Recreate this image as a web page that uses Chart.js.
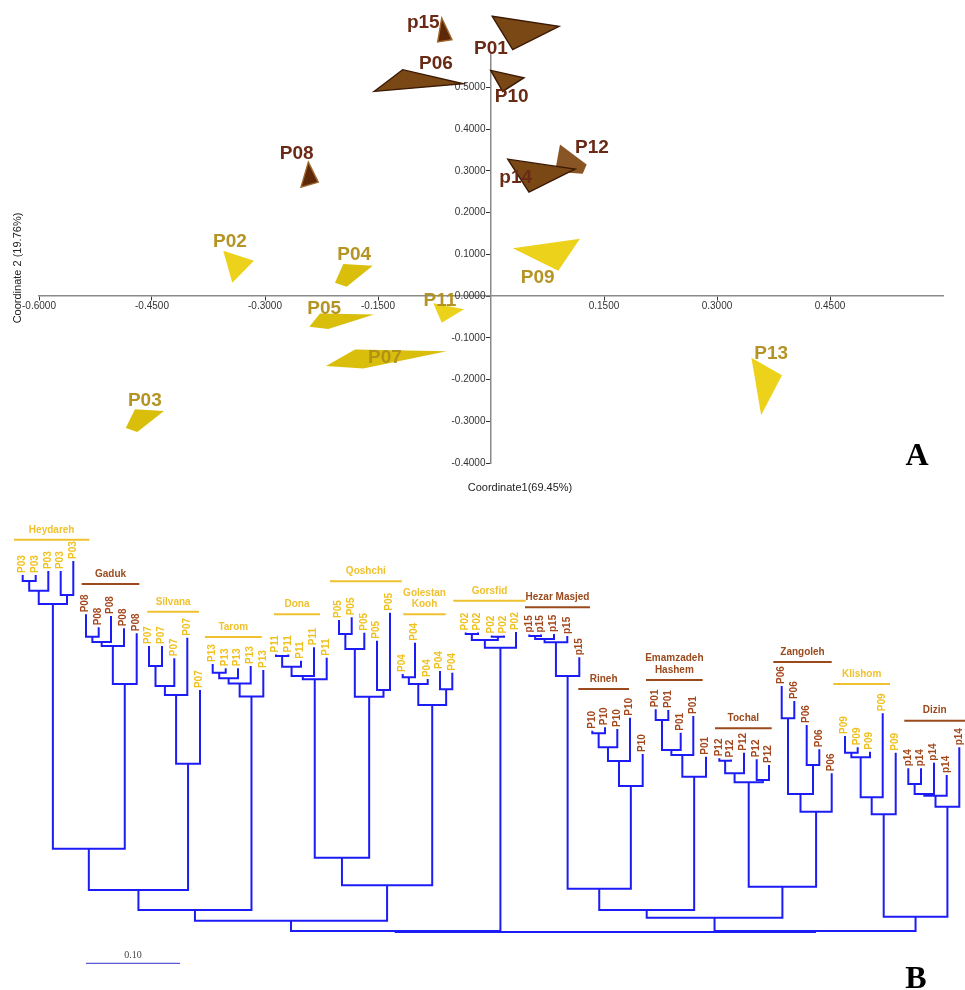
<!DOCTYPE html>
<html>
<head>
<meta charset="utf-8">
<script src="https://cdn.jsdelivr.net/npm/chart.js@4.4.1/dist/chart.umd.min.js"></script>
<style>
    html, body { margin: 0; padding: 0; background: #fff; }
    #wrap { position: relative; width: 965px; height: 990px; }
    #pcoa { position: absolute; left: 0; top: 0; }
    #tree { position: absolute; left: 0; top: 500px; }
</style>
</head>
<body>
<div id="wrap">
    <canvas id="pcoa" width="965" height="500"></canvas>
    <canvas id="tree" width="965" height="490"></canvas>
</div>
<script>
// ---------- Panel A: PCoA, one polygon per population ----------
const popNames = ['P12', 'p14', 'P01', 'P06', 'P10', 'p15', 'P08', 'P02', 'P04', 'P05', 'P07', 'P03', 'P09', 'P11', 'P13'];
const popVertX = [
    [0.0916, 0.1270, 0.1217, 0.0850],
    [0.0222, 0.1115, 0.0504],
    [0.0017, 0.0903, 0.0288],
    [-0.1553, -0.1172, -0.0368],
    [-0.0004, 0.0438, 0.0155],
    [-0.0654, -0.0518, -0.0708],
    [-0.2425, -0.2293, -0.2522],
    [-0.3554, -0.3146, -0.3434],
    [-0.1961, -0.1570, -0.1916, -0.2071],
    [-0.2270, -0.1553, -0.2160, -0.2412],
    [-0.1805, -0.0588, -0.1695, -0.2190],
    [-0.4726, -0.4341, -0.4695, -0.4849],
    [0.0288, 0.1181, 0.0893],
    [-0.0766, -0.0358, -0.0654],
    [0.3457, 0.3863, 0.3586]
];
const popVertY = [
    [0.3631, 0.3151, 0.2928, 0.2976],
    [0.3281, 0.3041, 0.2489],
    [0.6703, 0.6463, 0.5904],
    [0.4903, 0.5424, 0.5088],
    [0.5407, 0.5232, 0.4903],
    [0.6664, 0.6144, 0.6088],
    [0.3209, 0.2729, 0.2609],
    [0.1087, 0.0847, 0.0319],
    [0.0768, 0.0727, 0.0223, 0.0319],
    [-0.0415, -0.0439, -0.0792, -0.0737],
    [-0.1279, -0.1320, -0.1735, -0.1673],
    [-0.2712, -0.2753, -0.3257, -0.3161],
    [0.1145, 0.1375, 0.0607],
    [-0.0175, -0.0319, -0.0641],
    [-0.1481, -0.1896, -0.2856]
];
const popLabelX = [0.134, 0.0328, 0.0, -0.073, 0.0275, -0.0899, -0.258, -0.3466, -0.1815, -0.2214, -0.1408, -0.4595, 0.062, -0.0677, 0.372];
const popLabelY = [0.355, 0.284, 0.592, 0.556, 0.4765, 0.654, 0.342, 0.130, 0.098, -0.0295, -0.147, -0.251, 0.045, -0.0113, -0.1374];
const xTickValues = [-0.6, -0.45, -0.3, -0.15, 0.15, 0.3, 0.45];
const yTickValues = [-0.4, -0.3, -0.2, -0.1, 0, 0.1, 0.2, 0.3, 0.4, 0.5];
const xTitle = 'Coordinate1(69.45%)';
const yTitle = 'Coordinate 2 (19.76%)';

// ---------- Panel B: dendrogram ----------
const leafLabels = [
    'P03', 'P03', 'P03', 'P03', 'P03',
    'P08', 'P08', 'P08', 'P08', 'P08',
    'P07', 'P07', 'P07', 'P07', 'P07',
    'P13', 'P13', 'P13', 'P13', 'P13',
    'P11', 'P11', 'P11', 'P11', 'P11',
    'P05', 'P05', 'P05', 'P05', 'P05',
    'P04', 'P04', 'P04', 'P04', 'P04',
    'P02', 'P02', 'P02', 'P02', 'P02',
    'p15', 'p15', 'p15', 'p15', 'p15',
    'P10', 'P10', 'P10', 'P10', 'P10',
    'P01', 'P01', 'P01', 'P01', 'P01',
    'P12', 'P12', 'P12', 'P12', 'P12',
    'P06', 'P06', 'P06', 'P06', 'P06',
    'P09', 'P09', 'P09', 'P09', 'P09',
    'p14', 'p14', 'p14', 'p14', 'p14'
];
const leafPos = [
    22.7, 35.7, 48.3, 60.7, 73.3,
    86, 98.7, 111, 124, 136.7,
    149, 162, 174.3, 187.3, 200,
    212.7, 225.7, 238, 250.7, 263.3,
    276, 288.3, 301, 314, 326.7,
    339, 351.7, 364.3, 377, 390,
    402.7, 415, 427.7, 440, 452.3,
    465.7, 478, 491.7, 504, 516,
    529.3, 541, 554, 567.3, 579.3,
    592.3, 605, 617.3, 630, 642.7,
    655.7, 668.3, 680.7, 693.3, 706,
    719.3, 731, 744, 756.7, 769,
    781.7, 794.3, 806.7, 819.3, 831.7,
    845, 857.7, 870, 882.7, 895.7,
    908.3, 921, 934, 946.7, 959.3
];
const leafTip = [
    0.3798, 0.3798, 0.3840, 0.3840, 0.3947,
    0.3380, 0.3241, 0.3362, 0.3231, 0.3178,
    0.3043, 0.3043, 0.2912, 0.3131, 0.2574,
    0.2851, 0.2805, 0.2805, 0.2830, 0.2787,
    0.2952, 0.2952, 0.2886, 0.3029, 0.2918,
    0.3319, 0.3348, 0.3184, 0.3099, 0.3397,
    0.2745, 0.3078, 0.2691, 0.2777, 0.2759,
    0.3186, 0.3186, 0.3154, 0.3154, 0.3191,
    0.3165, 0.3165, 0.3170, 0.3149, 0.2922,
    0.2141, 0.2178, 0.2160, 0.2280, 0.1894,
    0.2369, 0.2362, 0.2120, 0.2298, 0.1865,
    0.1848, 0.1835, 0.1907, 0.1837, 0.1777,
    0.2617, 0.2457, 0.2202, 0.1944, 0.1688,
    0.2085, 0.1965, 0.1918, 0.2327, 0.1907,
    0.1741, 0.1741, 0.1801, 0.1670, 0.1965
];
// [child a, child b, height]; leaves are 0..74, merged nodes are 75 onward
const merges = [
    [0, 1, 0.3734], [75, 2, 0.3631], [3, 4, 0.3585], [76, 77, 0.3489],
    [5, 6, 0.3141], [79, 7, 0.3085], [80, 8, 0.3043], [81, 9, 0.2638],
    [10, 11, 0.2830], [83, 12, 0.2617], [84, 13, 0.2521], [85, 14, 0.1790],
    [15, 16, 0.2759], [87, 17, 0.2699], [88, 18, 0.2644], [89, 19, 0.2505],
    [20, 21, 0.2936], [91, 22, 0.2822], [92, 23, 0.2723], [93, 24, 0.2688],
    [25, 26, 0.3170], [95, 27, 0.3011], [28, 29, 0.2574], [96, 97, 0.2503],
    [30, 31, 0.2710], [99, 32, 0.2638], [33, 34, 0.2582], [100, 101, 0.2415],
    [78, 82, 0.0886], [103, 86, 0.0447], [104, 90, 0.0234],
    [94, 98, 0.0790], [106, 102, 0.0497], [105, 107, 0.0120],
    [35, 36, 0.3170], [37, 38, 0.3141], [109, 110, 0.3106], [111, 39, 0.3024],
    [40, 41, 0.3149], [113, 42, 0.3117], [114, 43, 0.3082], [115, 44, 0.2723],
    [45, 46, 0.2114], [117, 47, 0.1965], [118, 48, 0.1819], [119, 49, 0.1553],
    [50, 51, 0.2255], [121, 52, 0.1936], [122, 53, 0.1883], [123, 54, 0.1652],
    [55, 56, 0.1822], [125, 57, 0.1688], [58, 59, 0.1617], [126, 127, 0.1593],
    [60, 61, 0.2273], [62, 63, 0.1777], [129, 130, 0.1468], [131, 64, 0.1280],
    [65, 66, 0.1907], [133, 67, 0.1859], [134, 68, 0.1433], [135, 69, 0.1252],
    [70, 71, 0.1574], [137, 72, 0.1468], [138, 73, 0.1450], [139, 74, 0.1333],
    [116, 120, 0.0461], [141, 124, 0.0234], [128, 132, 0.0482], [142, 143, 0.0152],
    [136, 140, 0.0163], [144, 145, 0.0011],
    [108, 112, 0.0011], [147, 146, 0.0]
];
const groupNames = ['Heydareh', 'Gaduk', 'Silvana', 'Tarom', 'Dona', 'Qoshchi', 'Golestan\nKooh', 'Gorsfid',
    'Hezar Masjed', 'Rineh', 'Emamzadeh\nHashem', 'Tochal', 'Zangoleh', 'Klishom', 'Dizin'];
const groupPop = ['P03', 'P08', 'P07', 'P13', 'P11', 'P05', 'P04', 'P02', 'p15', 'P10', 'P01', 'P12', 'P06', 'P09', 'p14'];
const groupFrom = [14, 81.7, 147.3, 205, 274, 330, 403.3, 453.3, 525, 578.3, 646, 715, 773.3, 833.3, 904.3];
const groupTo = [89.3, 139.3, 199, 261.7, 320, 401.7, 445.7, 525.7, 590, 629, 702.7, 771.7, 831.7, 890, 965];
const groupLevel = [0.4173, 0.3702, 0.3407, 0.3138, 0.3380, 0.3731, 0.3380, 0.3524, 0.3454, 0.2585, 0.2681, 0.2167, 0.2872, 0.2638, 0.2248];
const scaleBarX = [86, 180];
const scaleBarLevel = -0.0333;
const scaleBarText = '0.10';

// ---------- styles ----------
const yellowPops = ['P02', 'P03', 'P04', 'P05', 'P07', 'P09', 'P11', 'P13'];
const popFill = {
    P12: '#8a5524', p14: '#7a4815', P01: '#7a4815', P06: '#7a4815', P10: '#7a4815',
    p15: '#5c2807', P08: '#5c2807',
    P02: '#edd21c', P09: '#edd21c', P11: '#edd21c', P13: '#edd21c',
    P04: '#d9bf0c', P05: '#d9bf0c', P07: '#d9bf0c', P03: '#d9bf0c'
};
const popEdge = { p14: '#3b1a05', P01: '#3b1a05', P06: '#3b1a05', P10: '#3b1a05', p15: '#a0652c', P08: '#a0652c' };
const SANS = '"Liberation Sans", Arial, Helvetica, sans-serif';
const SERIF = '"Liberation Serif", "Times New Roman", serif';
const isYellow = name => yellowPops.includes(name);

const pcoaText = {
    id: 'pcoaText',
    afterDatasetsDraw(chart) {
        const { ctx, scales: { x, y } } = chart;
        chart.data.datasets.forEach((ds, i) => {
            const pts = chart.getDatasetMeta(i).data;
            ctx.save();
            ctx.beginPath();
            pts.forEach((p, k) => (k ? ctx.lineTo(p.x, p.y) : ctx.moveTo(p.x, p.y)));
            ctx.closePath();
            ctx.fillStyle = popFill[ds.label];
            ctx.fill();
            if (popEdge[ds.label]) {
                ctx.strokeStyle = popEdge[ds.label];
                ctx.lineWidth = 1.4;
                ctx.stroke();
            }
            ctx.restore();
        });

        ctx.save();
        ctx.font = `bold 19px ${SANS}`;
        ctx.textAlign = 'center';
        ctx.textBaseline = 'middle';
        popNames.forEach((name, i) => {
            ctx.fillStyle = isYellow(name) ? 'rgba(176, 142, 24, 0.95)' : '#6a2b16';
            ctx.fillText(name, x.getPixelForValue(popLabelX[i]), y.getPixelForValue(popLabelY[i]));
        });

        ctx.fillStyle = '#222';
        ctx.font = `11px ${SANS}`;
        ctx.fillText(xTitle, 520, 488);
        ctx.save();
        ctx.translate(18, 268);
        ctx.rotate(-Math.PI / 2);
        ctx.fillText(yTitle, 0, 0);
        ctx.restore();

        ctx.fillStyle = '#000';
        ctx.font = `bold 32px ${SERIF}`;
        ctx.fillText('A', 917, 457);
        ctx.restore();
    }
};

const treeText = {
    id: 'treeText',
    afterDatasetsDraw(chart) {
        const { ctx, scales: { x, y } } = chart;
        ctx.save();
        ctx.font = `bold 10px ${SANS}`;
        ctx.textAlign = 'left';
        ctx.textBaseline = 'middle';
        leafLabels.forEach((label, i) => {
            ctx.save();
            ctx.translate(x.getPixelForValue(leafPos[i]) - 0.5, y.getPixelForValue(leafTip[i]) - 2);
            ctx.rotate(-Math.PI / 2);
            ctx.fillStyle = isYellow(label) ? '#f0c11e' : '#a3471c';
            ctx.fillText(label, 0, 0);
            ctx.restore();
        });

        ctx.textAlign = 'center';
        groupNames.forEach((name, i) => {
            const lines = name.split('\n');
            const cx = x.getPixelForValue((groupFrom[i] + groupTo[i]) / 2);
            const base = y.getPixelForValue(groupLevel[i]) - 10;
            ctx.fillStyle = isYellow(groupPop[i]) ? '#f0c12e' : '#9a4a1c';
            lines.forEach((line, k) => {
                ctx.fillText(line, cx, base - (lines.length - 1 - k) * 11.5);
            });
        });

        ctx.fillStyle = '#444';
        ctx.font = `10px ${SERIF}`;
        ctx.fillText(scaleBarText, x.getPixelForValue((scaleBarX[0] + scaleBarX[1]) / 2), y.getPixelForValue(scaleBarLevel) - 7.5);

        ctx.fillStyle = '#000';
        ctx.font = `bold 32px ${SERIF}`;
        ctx.fillText('B', 916, 480);
        ctx.restore();
    }
};

new Chart(document.getElementById('pcoa'), {
    type: 'scatter',
    data: {
        datasets: popNames.map((name, i) => ({
            label: name,
            data: popVertX[i].map((vx, k) => ({ x: vx, y: popVertY[i][k] })),
            pointRadius: 0,
            showLine: false
        }))
    },
    options: {
        responsive: false,
        animation: false,
        devicePixelRatio: 1,
        layout: { padding: { left: 39, right: 22, top: 54, bottom: 37 } },
        plugins: { legend: { display: false }, tooltip: { enabled: false } },
        scales: {
            x: {
                type: 'linear',
                min: -0.6,
                max: 0.6,
                position: { y: 0 },
                afterBuildTicks: scale => { scale.ticks = xTickValues.map(v => ({ value: v })); },
                afterFit: scale => { scale.height = 0; },
                ticks: {
                    callback: v => v.toFixed(4),
                    font: { family: SANS, size: 10 },
                    color: '#333',
                    padding: 0,
                    maxRotation: 0,
                    autoSkip: false
                },
                grid: { drawOnChartArea: false, tickLength: 4, color: '#333', lineWidth: 1 },
                border: { color: '#8a8a8a', width: 1.5 }
            },
            y: {
                type: 'linear',
                min: -0.4,
                max: 0.58,
                position: { x: 0 },
                afterBuildTicks: scale => { scale.ticks = yTickValues.map(v => ({ value: v })); },
                afterFit: scale => { scale.width = 0; },
                ticks: {
                    callback: v => v.toFixed(4) + '  ',
                    font: { family: SANS, size: 10 },
                    color: '#333',
                    autoSkip: false
                },
                grid: { drawOnChartArea: false, tickLength: 4, color: '#333', lineWidth: 1 },
                border: { color: '#8a8a8a', width: 1.5 }
            }
        }
    },
    plugins: [pcoaText]
});

// build the tree branches from the merge table
const nodeX = leafPos.slice();
const nodeH = leafTip.slice();
const treeSets = [];
merges.forEach(([a, b, h]) => {
    treeSets.push({
        data: [
            { x: nodeX[a], y: nodeH[a] },
            { x: nodeX[a], y: h },
            { x: nodeX[b], y: h },
            { x: nodeX[b], y: nodeH[b] }
        ],
        borderColor: '#1c1cf6',
        borderWidth: 2
    });
    nodeX.push((nodeX[a] + nodeX[b]) / 2);
    nodeH.push(h);
});
groupNames.forEach((name, i) => {
    treeSets.push({
        data: [{ x: groupFrom[i], y: groupLevel[i] }, { x: groupTo[i], y: groupLevel[i] }],
        borderColor: isYellow(groupPop[i]) ? '#f0c12e' : '#9a4a1c',
        borderWidth: 2
    });
});
treeSets.push({
    data: [{ x: scaleBarX[0], y: scaleBarLevel }, { x: scaleBarX[1], y: scaleBarLevel }],
    borderColor: '#3030d0',
    borderWidth: 1
});

new Chart(document.getElementById('tree'), {
    type: 'line',
    data: { datasets: treeSets },
    options: {
        responsive: false,
        animation: false,
        devicePixelRatio: 1,
        layout: { padding: 0 },
        elements: { point: { radius: 0 }, line: { tension: 0, fill: false, borderJoinStyle: 'miter' } },
        plugins: { legend: { display: false }, tooltip: { enabled: false } },
        scales: {
            x: { type: 'linear', min: 0, max: 965, display: false },
            y: { type: 'linear', min: -0.0617, max: 0.4596, display: false }
        }
    },
    plugins: [treeText]
});
</script>
</body>
</html>
